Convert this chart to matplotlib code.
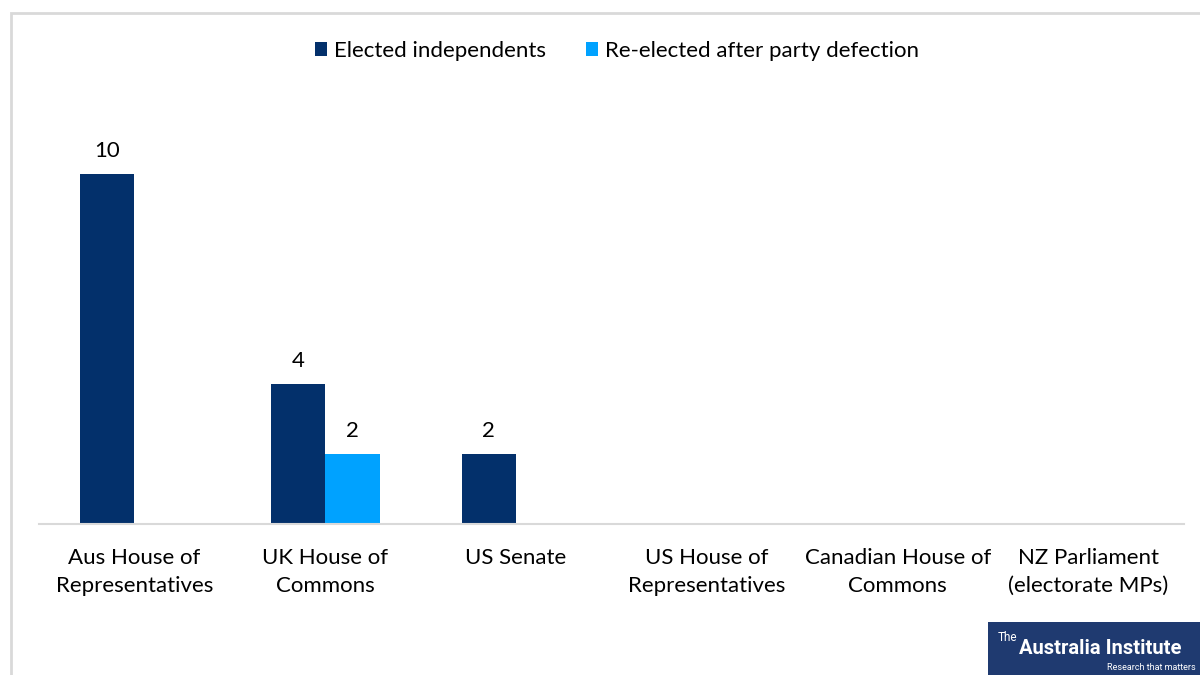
import matplotlib
matplotlib.use("Agg")
import matplotlib.pyplot as plt
from matplotlib.patches import Rectangle
import numpy as np

categories = ["Aus House of\nRepresentatives", "UK House of\nCommons", "US Senate",
              "US House of\nRepresentatives", "Canadian House of\nCommons",
              "NZ Parliament\n(electorate MPs)"]
elected_independents = [10, 4, 2, 0, 0, 0]
reelected_defection = [0, 2, 0, 0, 0, 0]
series_names = ["Elected independents", "Re-elected after party defection"]

DARK = "#03306B"
LIGHT = "#00A2FF"
FONT = ["Lato", "DejaVu Sans"]
plt.rcParams["font.family"] = FONT
FS = 16

W, H = 1200, 675
fig = plt.figure(figsize=(12, 6.75), dpi=100)

# outer chart border (light gray)
fig.patches.append(Rectangle((11 / W, -0.1), 1.2, 1 - 13 / H + 0.1, transform=fig.transFigure,
                             fill=False, edgecolor="#D9D9D9", linewidth=2))

ax_left, ax_right, ax_bottom_px = 39, 1184, 524
ymax = 12.0
ax_top_px = ax_bottom_px - ymax * 35
ax = fig.add_axes([ax_left / W, 1 - ax_bottom_px / H,
                   (ax_right - ax_left) / W, (ax_bottom_px - ax_top_px) / H])
ax.set_xlim(-0.5, len(categories) - 0.5)
ax.set_ylim(0, ymax)

x = np.arange(len(categories))
bw = 0.286
b1 = ax.bar(x - bw / 2, elected_independents, width=bw, color=DARK, label=series_names[0])
b2 = ax.bar(x + bw / 2, reelected_defection, width=bw, color=LIGHT, label=series_names[1])

for bars, vals in ((b1, elected_independents), (b2, reelected_defection)):
    for rect, v in zip(bars, vals):
        if v:
            ax.annotate(f"{v}", (rect.get_x() + rect.get_width() / 2, v),
                        xytext=(0, 16.5), textcoords="offset points",
                        ha="center", va="center", fontsize=FS, color="#000000")

for s in ["top", "right", "left"]:
    ax.spines[s].set_visible(False)
ax.spines["bottom"].set_color("#D9D9D9")
ax.spines["bottom"].set_linewidth(1.5)
ax.set_yticks([])
ax.set_xticks(x)
ax.set_xticklabels(categories, fontsize=FS, linespacing=1.52)
ax.tick_params(axis="x", length=0, pad=17)

leg = fig.legend(handles=[b1, b2], labels=series_names, loc="center",
                 bbox_to_anchor=(617 / W, 1 - 51 / H), ncol=2, frameon=False,
                 fontsize=FS, handlelength=0.55, handleheight=0.55,
                 handletextpad=0.3, columnspacing=1.8)

# logo block
LOGO_FONT = ["Roboto", "DejaVu Sans"]
fig.patches.append(Rectangle((988 / W, 0), (W - 988) / W, 53 / H, transform=fig.transFigure,
                             facecolor="#1F3A70", edgecolor="none"))
fig.text(998 / W, 1 - 644 / H, "The", color="white", fontsize=8.5, va="bottom",
         family=LOGO_FONT)
fig.text(1019 / W, 1 - 648 / H, "Australia Institute", color="white", fontsize=14.5,
         fontweight="bold", va="center", family=LOGO_FONT)
fig.text(1196 / W, 1 - 668 / H, "Research that matters", color="white", fontsize=6.5,
         va="center", ha="right", family=LOGO_FONT)

fig.savefig("out.png", dpi=100)
